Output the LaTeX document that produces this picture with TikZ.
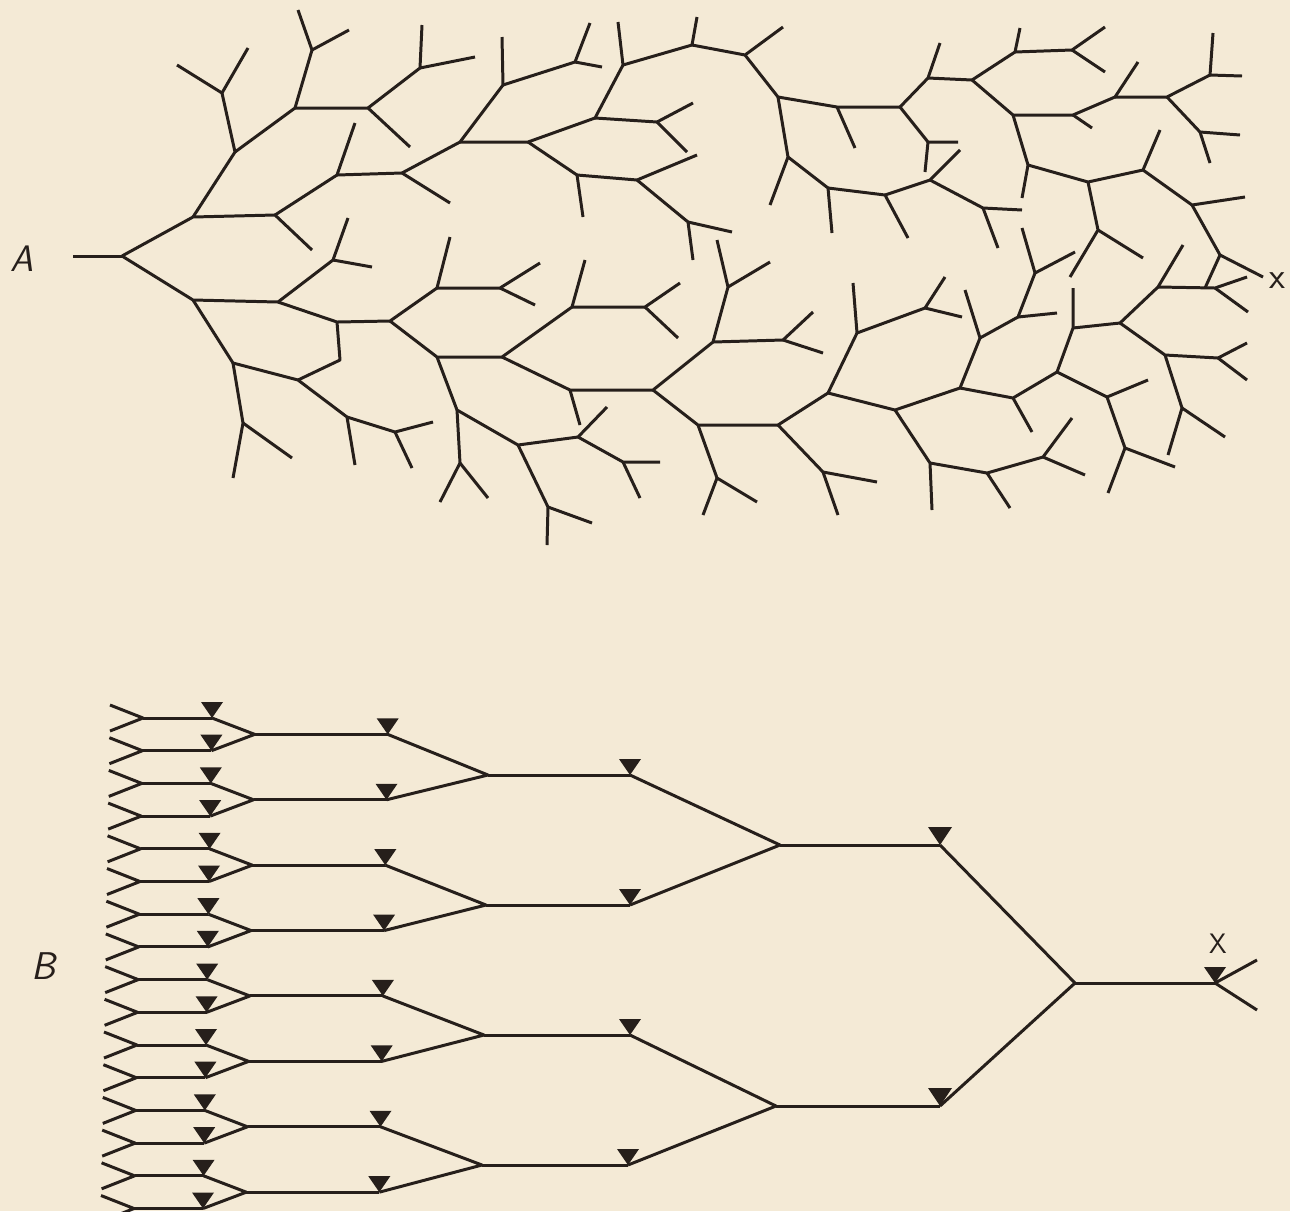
\documentclass[tikz,border=0pt]{standalone}
\definecolor{paper}{RGB}{244,234,214}
\definecolor{ink}{RGB}{38,31,27}
\begin{document}
\begin{tikzpicture}[x=0.02cm,y=-0.02cm,
  br/.style={draw=ink,line width=1.7pt,line join=round},
  lbl/.style={text=ink,inner sep=0pt}]
\fill[paper] (0,0) rectangle (1290,1211);
\useasboundingbox (0,0) rectangle (1290,1211);
% ---------------- Part A ----------------
\node[lbl,font=\sffamily\slshape\fontsize{21}{24}\selectfont] (labA) at (22,259) {A};
\node[lbl,font=\sffamily\fontsize{21}{24}\selectfont] (labx) at (1277,281) {x};
\draw[br] (73,256)--(122,256);
% upper half
\draw[br] (122,256)--(193,217)--(275,215)--(312,250);
\draw[br] (275,215)--(337,175)--(355,123);
\draw[br] (337,175)--(402,173)--(450,203);
\draw[br] (402,173)--(460,142)--(503,85)--(502,37);
\draw[br] (503,85)--(575,62)--(590,23);
\draw[br] (575,62)--(602,67);
\draw[br] (460,142)--(528,142)--(595,118)--(623,65)--(618,22);
\draw[br] (595,118)--(657,122)--(693,103);
\draw[br] (657,122)--(687,152);
\draw[br] (623,65)--(692,45)--(697,17);
\draw[br] (692,45)--(745,55)--(783,27);
\draw[br] (745,55)--(778,97)--(837,107)--(900,107);
\draw[br] (837,107)--(855,148);
\draw[br] (778,97)--(788,157)--(770,205);
\draw[br] (788,157)--(828,188)--(832,233);
\draw[br] (828,188)--(885,195)--(908,238);
\draw[br] (885,195)--(930,180)--(960,150);
\draw[br] (930,180)--(983,208)--(1022,210);
\draw[br] (983,208)--(998,248);
\draw[br] (900,107)--(928,78)--(940,43);
\draw[br] (928,78)--(972,80)--(1015,52)--(1020,28);
\draw[br] (1015,52)--(1072,50)--(1105,27);
\draw[br] (1072,50)--(1105,72);
\draw[br] (972,80)--(1013,115)--(1073,115)--(1115,97)--(1138,62);
\draw[br] (1073,115)--(1092,128);
\draw[br] (1115,97)--(1167,97)--(1210,75)--(1213,33);
\draw[br] (1210,75)--(1242,76);
\draw[br] (1167,97)--(1200,132)--(1240,135);
\draw[br] (1200,132)--(1210,163);
\draw[br] (1013,115)--(1028,165)--(1022,198);
\draw[br] (1028,165)--(1088,182)--(1143,170)--(1160,130);
\draw[br] (1143,170)--(1192,205)--(1245,197);
\draw[br] (1192,205)--(1220,255)--(1263,277);
\draw[br] (1220,255)--(1205,288);
\draw[br] (1088,182)--(1098,230)--(1070,277);
\draw[br] (1098,230)--(1143,258);
\draw[br] (900,107)--(928,142)--(958,142);
\draw[br] (928,142)--(925,172);
\draw[br] (528,142)--(577,175)--(583,217);
\draw[br] (577,175)--(637,180)--(697,155);
\draw[br] (637,180)--(688,222)--(693,260);
\draw[br] (688,222)--(732,232);
\draw[br] (193,217)--(235,152)--(222,93)--(177,65);
\draw[br] (222,93)--(248,48);
\draw[br] (235,152)--(295,108)--(312,50)--(298,10);
\draw[br] (312,50)--(349,30);
\draw[br] (295,108)--(368,108)--(410,147);
\draw[br] (368,108)--(420,68)--(422,25);
\draw[br] (420,68)--(475,57);
% lower half
\draw[br] (122,256)--(193,300)--(278,302)--(333,260)--(348,218);
\draw[br] (333,260)--(372,267);
\draw[br] (278,302)--(337,322)--(390,321)--(437,288)--(450,237);
\draw[br] (437,288)--(500,288)--(540,263);
\draw[br] (500,288)--(535,305);
\draw[br] (390,321)--(437,357)--(502,357)--(572,307)--(585,260);
\draw[br] (572,307)--(645,307)--(680,283);
\draw[br] (645,307)--(678,338);
\draw[br] (502,357)--(570,390)--(653,390)--(713,342)--(728,287)--(717,240);
\draw[br] (728,287)--(770,262);
\draw[br] (713,342)--(783,340)--(813,312);
\draw[br] (783,340)--(823,353);
\draw[br] (570,390)--(580,425);
\draw[br] (653,390)--(698,425)--(778,425)--(828,393)--(857,333)--(853,283);
\draw[br] (857,333)--(925,308)--(945,277);
\draw[br] (925,308)--(962,317);
\draw[br] (828,393)--(895,410)--(960,388)--(980,338)--(965,290);
\draw[br] (980,338)--(1018,317)--(1035,273)--(1022,228);
\draw[br] (1035,273)--(1075,252);
\draw[br] (1018,317)--(1057,313);
\draw[br] (960,388)--(1013,398)--(1057,372)--(1073,328)--(1073,288);
\draw[br] (1073,328)--(1120,323)--(1158,287)--(1183,245);
\draw[br] (1158,287)--(1215,288)--(1247,277);
\draw[br] (1215,288)--(1248,312);
\draw[br] (1120,323)--(1165,355)--(1218,358)--(1247,343);
\draw[br] (1218,358)--(1247,380);
\draw[br] (1165,355)--(1182,408)--(1168,455);
\draw[br] (1182,408)--(1225,437);
\draw[br] (1057,372)--(1107,397)--(1148,380);
\draw[br] (1107,397)--(1125,448)--(1108,493);
\draw[br] (1125,448)--(1175,467);
\draw[br] (1013,398)--(1032,432);
\draw[br] (895,410)--(930,463)--(932,510);
\draw[br] (930,463)--(987,473)--(1043,457)--(1072,418);
\draw[br] (1043,457)--(1085,475);
\draw[br] (987,473)--(1010,508);
\draw[br] (778,425)--(823,472)--(877,482);
\draw[br] (823,472)--(838,515);
\draw[br] (698,425)--(717,478)--(703,515);
\draw[br] (717,478)--(757,502);
\draw[br] (437,357)--(457,410)--(518,445)--(578,437)--(607,407);
\draw[br] (578,437)--(623,462)--(660,462);
\draw[br] (623,462)--(640,498);
\draw[br] (518,445)--(548,507)--(547,545);
\draw[br] (548,507)--(592,523);
\draw[br] (457,410)--(460,463)--(440,502);
\draw[br] (460,463)--(488,498);
\draw[br] (337,322)--(340,360)--(298,380);
\draw[br] (193,300)--(233,363)--(298,380)--(347,417)--(355,465);
\draw[br] (347,417)--(395,432)--(433,422);
\draw[br] (395,432)--(412,468);
\draw[br] (233,363)--(243,423)--(233,478);
\draw[br] (243,423)--(292,458);
% ---------------- Part B ----------------
\node[lbl,font=\sffamily\slshape\fontsize{22}{26}\selectfont] (labB) at (44,966) {B};
\foreach \i in {0,...,15}{
  \pgfmathsetmacro{\yy}{718+32.7*\i}
  \pgfmathsetmacro{\dd}{-0.6*\i}
  \coordinate (lf\i) at ({143+\dd},\yy);
  \coordinate (lt\i) at ({212+\dd},\yy);
  \coordinate (la\i) at ({110+\dd},{\yy-13});
  \coordinate (lb\i) at ({110+\dd},{\yy+13});
  \draw[br] (la\i) -- (lf\i) -- (lb\i);
  \draw[br] (lf\i) -- (lt\i);
}
\foreach \j in {0,...,7}{
  \pgfmathtruncatemacro{\a}{2*\j}
  \pgfmathtruncatemacro{\b}{2*\j+1}
  \pgfmathsetmacro{\yy}{718+32.7*(2*\j+0.5)}
  \pgfmathsetmacro{\dd}{-0.6*(2*\j+0.5)}
  \coordinate (ma\j) at ({255+\dd},\yy);
  \coordinate (ta\j) at ({388+\dd},\yy);
  \draw[br] (lt\a) -- (ma\j) -- (lt\b);
  \draw[br] (ma\j) -- (ta\j);
}
\coordinate (mb0) at (488,775);  \coordinate (tb0) at (630,775);
\coordinate (mb1) at (486,905);  \coordinate (tb1) at (630,905);
\coordinate (mb2) at (484,1035); \coordinate (tb2) at (630,1035);
\coordinate (mb3) at (482,1165); \coordinate (tb3) at (628,1165);
\foreach \k in {0,...,3}{
  \pgfmathtruncatemacro{\a}{2*\k}
  \pgfmathtruncatemacro{\b}{2*\k+1}
  \draw[br] (ta\a) -- (mb\k) -- (ta\b);
  \draw[br] (mb\k) -- (tb\k);
}
\coordinate (mc0) at (780,845);  \coordinate (tc0) at (940,845);
\coordinate (mc1) at (776,1106); \coordinate (tc1) at (940,1106);
\draw[br] (tb0) -- (mc0) -- (tb1);
\draw[br] (tb2) -- (mc1) -- (tb3);
\draw[br] (mc0) -- (tc0);
\draw[br] (mc1) -- (tc1);
\coordinate (rt) at (1075,983);
\coordinate (tx) at (1215,983);
\coordinate (xa) at (1257,960);
\coordinate (xb) at (1257,1010);
\draw[br] (tc0) -- (rt) -- (tc1);
\draw[br] (rt) -- (tx);
\draw[br] (xa) -- (tx) -- (xb);
\node[lbl,font=\sffamily\fontsize{16}{18}\selectfont] (labXB) at (1218,944) {X};
% triangles
\foreach \i in {0,...,15}{
  \fill[ink,shift={(lt\i)}] (-11,-16)--(11,-16)--(0,0)--cycle;
}
\foreach \j in {0,...,7}{
  \fill[ink,shift={(ta\j)}] (-11,-16)--(11,-16)--(0,0)--cycle;
}
\foreach \k in {0,...,3}{
  \fill[ink,shift={(tb\k)}] (-11,-16)--(11,-16)--(0,0)--cycle;
}
\foreach \k in {0,1}{
  \fill[ink,shift={(tc\k)}] (-12,-18)--(12,-18)--(0,0)--cycle;
}
\fill[ink,shift={(tx)}] (-11,-16)--(11,-16)--(0,0)--cycle;
\end{tikzpicture}
\end{document}
